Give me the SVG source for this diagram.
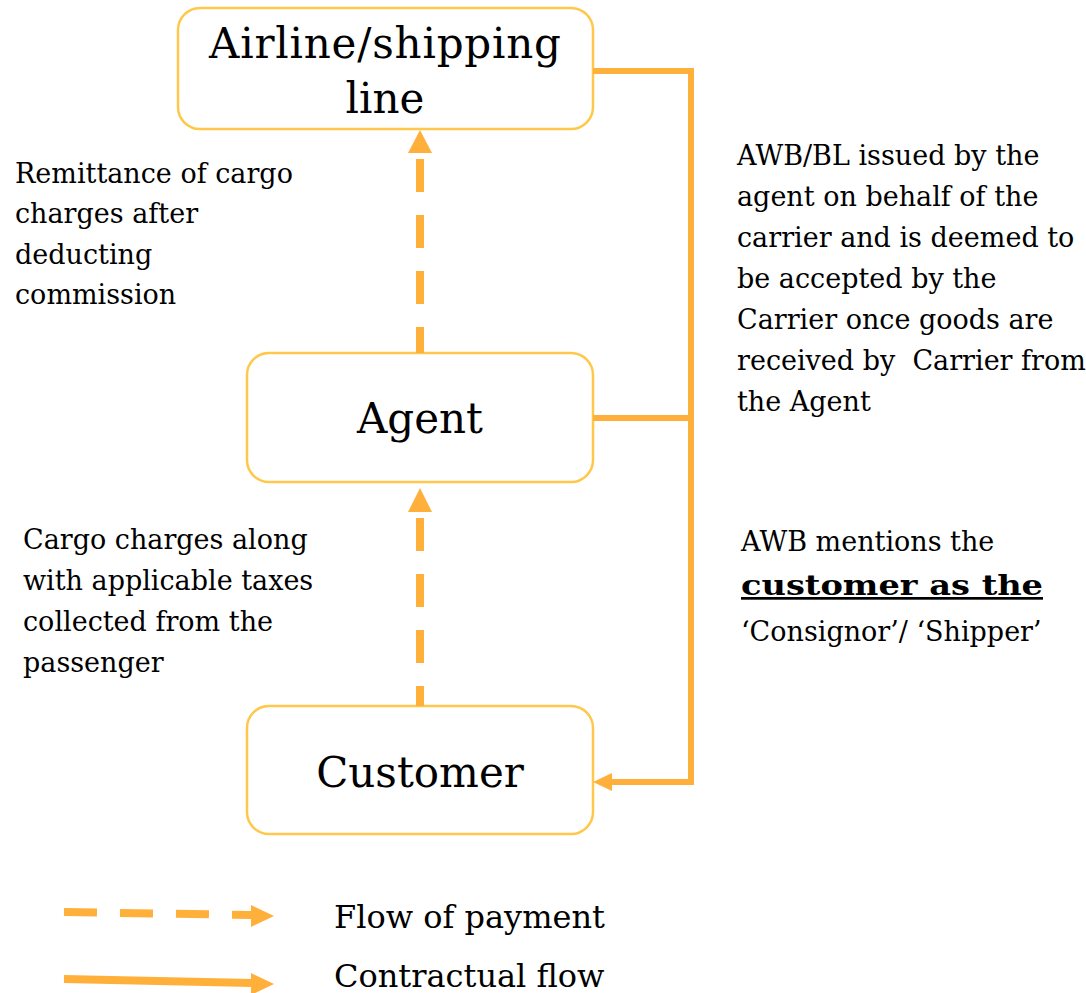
<svg xmlns="http://www.w3.org/2000/svg" width="1086" height="993" viewBox="0 0 1086 993">
  <style>
    .box { fill: #ffffff; stroke: #ffc84a; stroke-width: 2.5; }
    .label { font-family: "DejaVu Serif", "Liberation Serif", serif; font-size: 42px; fill: #000; text-anchor: middle; }
    .note { font-family: "DejaVu Serif", "Liberation Serif", serif; font-size: 27px; fill: #000; white-space: pre; }
    .legend { font-family: "DejaVu Serif", "Liberation Serif", serif; font-size: 32px; fill: #000; }
    .pay { fill: none; stroke: #ffb03b; stroke-width: 8; stroke-dasharray: 33 23; }
    .contract { fill: none; stroke: #ffb03b; stroke-width: 6; }
    .head { fill: #ffb03b; }
  </style>

  <!-- Nodes -->
  <g id="carrier">
    <rect class="box" x="178" y="8" width="415" height="121" rx="22"/>
    <text class="label" x="385" y="58" font-size="43" textLength="352" lengthAdjust="spacing">Airline/shipping</text>
    <text class="label" x="385" y="113" font-size="43">line</text>
  </g>
  <g id="agent">
    <rect class="box" x="247" y="353" width="346" height="129" rx="22"/>
    <text class="label" x="420" y="433">Agent</text>
  </g>
  <g id="customer">
    <rect class="box" x="247" y="706" width="346" height="128" rx="22"/>
    <text class="label" x="420" y="787">Customer</text>
  </g>

  <!-- Connectors -->
  <g id="connectors">
    <!-- payment: agent to carrier -->
    <line class="pay" x1="420" y1="159" x2="420" y2="353"/>
    <polygon class="head" points="420,130 432,153 408,153"/>
    <!-- payment: customer to agent -->
    <line class="pay" x1="420" y1="518" x2="420" y2="706"/>
    <polygon class="head" points="420,488 432,512 408,512"/>
    <!-- contractual flow: carrier and agent to customer -->
    <polyline class="contract" points="593,71 691,71 691,782 612,782"/>
    <line class="contract" x1="593" y1="418" x2="691" y2="418"/>
    <polygon class="head" points="593,782 612,773 612,791"/>
  </g>

  <!-- Annotations -->
  <g id="notes">
    <text class="note" x="15" y="183">Remittance of cargo</text>
    <text class="note" x="15" y="223">charges after</text>
    <text class="note" x="15" y="264">deducting</text>
    <text class="note" x="15" y="304">commission</text>

    <text class="note" x="23" y="549">Cargo charges along</text>
    <text class="note" x="23" y="590">with applicable taxes</text>
    <text class="note" x="23" y="631">collected from the</text>
    <text class="note" x="23" y="672">passenger</text>

    <text class="note" x="737" y="165">AWB/BL issued by the</text>
    <text class="note" x="737" y="206">agent on behalf of the</text>
    <text class="note" x="737" y="247">carrier and is deemed to</text>
    <text class="note" x="737" y="288">be accepted by the</text>
    <text class="note" x="737" y="329">Carrier once goods are</text>
    <text class="note" x="737" y="370" xml:space="preserve">received by  Carrier from</text>
    <text class="note" x="737" y="411">the Agent</text>

    <text class="note" x="741" y="551">AWB mentions the</text>
    <text class="note" x="741" y="595" font-size="36" font-weight="bold" text-decoration="underline" textLength="302" lengthAdjust="spacingAndGlyphs">customer as the</text>
    <text class="note" x="741" y="641" font-size="25">‘Consignor’/ ‘Shipper’</text>
  </g>

  <!-- Legend -->
  <g id="legend">
    <line class="pay" x1="64" y1="912" x2="252" y2="915"/>
    <polygon class="head" points="274,916 251,905 251,927"/>
    <line class="contract" x1="64" y1="979" x2="252" y2="983" style="stroke-width:8"/>
    <polygon class="head" points="274,984 251,973 251,995"/>
    <text class="legend" x="334" y="928">Flow of payment</text>
    <text class="legend" x="334" y="987">Contractual flow</text>
  </g>
</svg>
